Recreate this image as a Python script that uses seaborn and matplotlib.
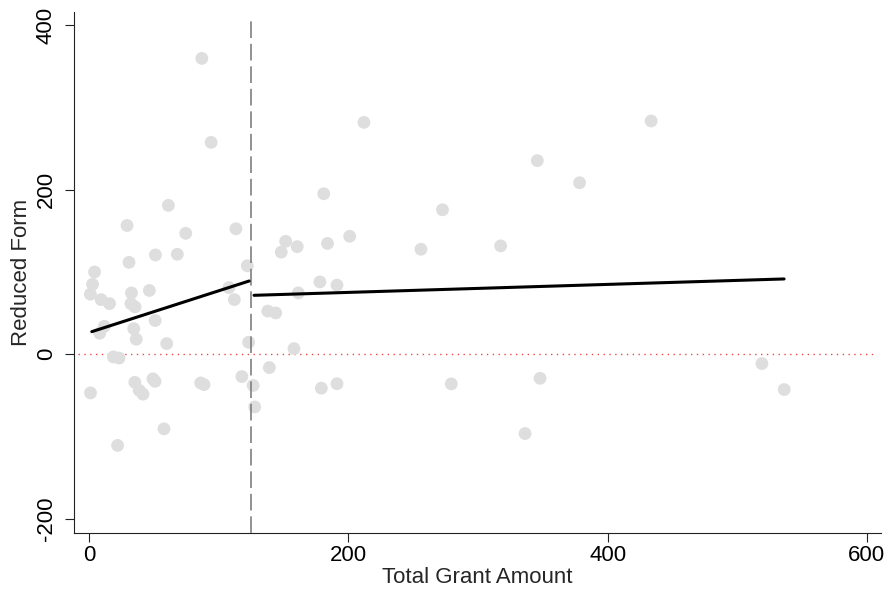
"""Reduced form vs. total grant amount, with split linear fits at the cutoff.

Outputs: out.png
"""
import matplotlib
matplotlib.use("Agg")
import matplotlib.pyplot as plt
import pandas as pd
import seaborn as sns

CUTOFF = 125

# scatter points (grant amount, reduced form)
grant = [
    86.9, 94.1, 61.1, 29.2, 74.5, 113.2, 51.1, 68.0, 30.7, 4.1,
    122.0, 2.6, 0.9, 9.2, 15.7, 32.6, 46.4, 32.2, 35.4, 107.8,
    112.0, 11.7, 8.1, 50.9, 34.4, 36.3, 59.8, 123.0, 18.7, 23.0,
    35.2, 49.2, 50.8, 38.6, 41.5, 1.0, 86.0, 88.6, 117.8, 57.7,
    21.9,
    126.5, 127.7, 137.8, 143.9, 139.0, 158.0, 179.1, 191.2, 161.3, 178.0,
    191.2, 181.0, 151.6, 148.2, 160.5, 183.9, 201.0, 256.0, 272.6, 212.0,
    345.8, 378.4, 317.5, 279.4, 347.9, 336.3, 433.6, 519.1, 536.3,
]
reduced_form = [
    359.7, 257.6, 181.0, 156.5, 147.0, 152.5, 120.7, 121.5, 111.7, 100.0,
    107.5, 85.0, 73.0, 66.4, 61.5, 74.5, 77.5, 61.5, 57.5, 81.0,
    66.4, 33.9, 25.5, 41.0, 31.0, 18.2, 12.9, 14.5, -3.3, -4.7,
    -34.2, -30.0, -33.0, -43.9, -48.6, -47.1, -35.0, -37.0, -27.2, -90.8,
    -110.9,
    -38.0, -64.1, 52.4, 50.2, -16.3, 6.8, -41.3, -35.9, 74.5, 87.9,
    84.0, 195.1, 137.3, 124.1, 130.8, 134.7, 143.4, 127.6, 175.6, 281.9,
    235.4, 208.5, 131.7, -36.1, -29.3, -96.5, 283.6, -11.4, -43.0,
]

# fitted lines (end points) on each side of the cutoff
fit_left_x = [2.0, 123.4]
fit_left_y = [27.4, 89.0]
fit_right_x = [127.2, 536.2]
fit_right_y = [71.6, 91.5]

XTICKS = [0, 200, 400, 600]
YTICKS = [-200, 0, 200, 400]


def main():
    sns.set_theme(style="ticks")
    plt.rcParams["font.family"] = ["Liberation Sans", "DejaVu Sans"]
    plt.rcParams.update({"xtick.labelsize": 16, "ytick.labelsize": 16,
                         "axes.labelsize": 16})

    df = pd.DataFrame({"grant": grant, "rf": reduced_form})
    fits = pd.concat([
        pd.DataFrame({"x": fit_left_x, "y": fit_left_y, "side": "left"}),
        pd.DataFrame({"x": fit_right_x, "y": fit_right_y, "side": "right"}),
    ])

    fig = plt.figure(figsize=(8.91, 5.98), dpi=100)
    ax = fig.add_axes([0.0831, 0.1082, 0.9057, 0.8717])

    sns.scatterplot(data=df, x="grant", y="rf", ax=ax, s=85,
                    color="#dedede", edgecolor="none", linewidth=0, zorder=2)
    for side, grp in fits.groupby("side"):
        sns.lineplot(data=grp, x="x", y="y", ax=ax, color="black",
                     linewidth=2.2, sort=False, zorder=4)

    ax.set_xlim(-11.7, 611)
    ax.set_ylim(-217.8, 416.1)
    ax.vlines(CUTOFF, -217.8, 411, color="#7f7f7f", linewidth=1.2,
              linestyle=(0, (10, 3.5)), zorder=3)
    ax.axhline(0, xmin=0.005, xmax=0.995, color="#f04848", linewidth=1.0,
               linestyle=(0, (1, 3.2)), zorder=1)

    ax.set_xticks(XTICKS)
    ax.set_yticks(YTICKS)
    ax.set_xticklabels([str(t) for t in XTICKS])
    ax.set_yticklabels([str(t) for t in YTICKS], rotation=90, va="center")
    ax.tick_params(axis="both", direction="out", length=6.3, width=0.8,
                   color="#222222", labelcolor="black")
    ax.tick_params(axis="x", pad=2)
    ax.tick_params(axis="y", pad=6)
    for s in ("top", "right"):
        ax.spines[s].set_visible(False)
    for s in ("left", "bottom"):
        ax.spines[s].set_linewidth(0.8)
        ax.spines[s].set_color("#222222")

    ax.set_xlabel("Total Grant Amount", labelpad=1)
    ax.set_ylabel("Reduced Form", labelpad=3)
    ax.grid(False)

    fig.savefig("out.png", dpi=100)
    plt.close(fig)


if __name__ == "__main__":
    main()
